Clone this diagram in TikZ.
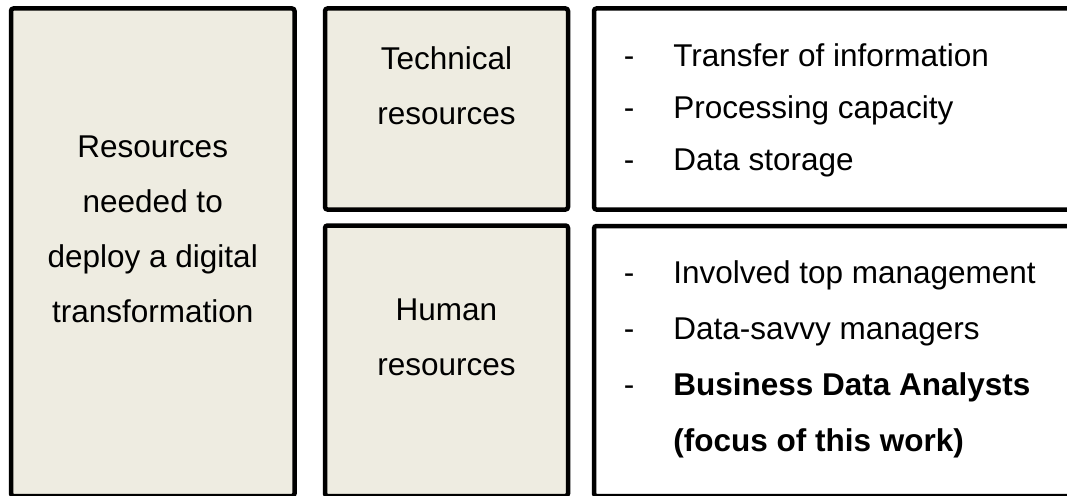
\documentclass[tikz,border=0pt]{standalone}
\usepackage{fontspec}
\setmainfont{Liberation Sans}
\definecolor{paper}{HTML}{EEECE1}
\newcommand{\dashitem}{\makebox[49.5pt][l]{-}}

\begin{document}
\begin{tikzpicture}[
    x=1pt, y=1pt,
    box/.style={rectangle, draw, line width=4.5pt, rounded corners=2.5pt, inner sep=0pt},
    res/.style={box, fill=paper},
    list/.style={box, fill=white},
    txt/.style={inner sep=0pt, align=center, font=\fontsize{31.5}{55}\selectfont},
    items/.style={inner sep=0pt, align=left, anchor=west}
]
\useasboundingbox (0,0) rectangle (1067,-495);
\clip (0,0) rectangle (1067,-495);

% Boxes
\node[res, minimum width=283.5pt, minimum height=487.5pt] (need) at (152.75,-252.25) {};
\node[res, minimum width=243pt, minimum height=201pt] (tech) at (446.5,-109) {};
\node[res, minimum width=243pt, minimum height=270.5pt] (human) at (446.5,-360.75) {};
\node[list, minimum width=491pt, minimum height=201pt] (techList) at (839.5,-109) {};
\node[list, minimum width=491pt, minimum height=270pt] (humanList) at (839.5,-361) {};

% Labels
\node[txt] (needTxt) at (152.75,-229.5) {Resources\\needed to\\deploy a digital\\transformation};
\node[txt] (techTxt) at (446.5,-86.2) {Technical\\resources};
\node[txt] (humanTxt) at (446.5,-337.5) {Human\\resources};

% Items
\node[items, font=\fontsize{31.5}{51.7}\selectfont] (techItems) at (623.6,-110.2)
    {\dashitem Transfer of information\\\dashitem Processing capacity\\\dashitem Data storage};
\node[items, font=\fontsize{31.5}{56}\selectfont] (humanItems) at (623.6,-359.5)
    {\dashitem Involved top management\\\dashitem Data-savvy managers\\
     \dashitem\textbf{Business Data Analysts}\\\makebox[49.5pt]{}\textbf{(focus of this work)}};

\end{tikzpicture}
\end{document}
